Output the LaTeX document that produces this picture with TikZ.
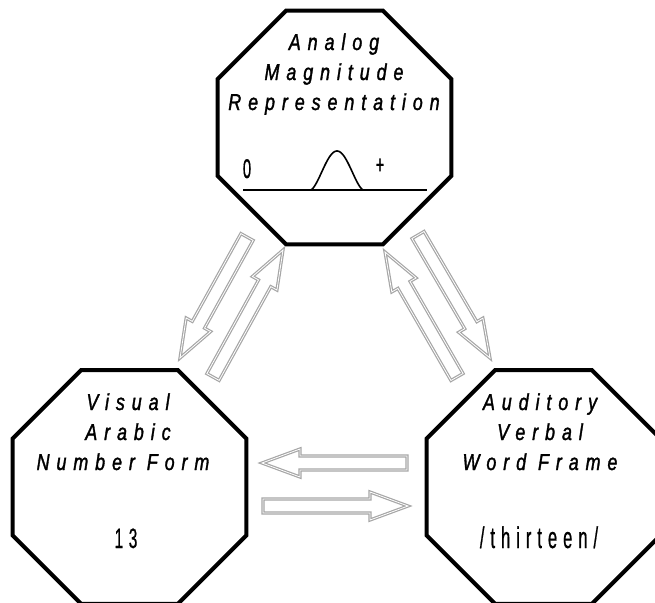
\documentclass[tikz,border=0pt]{standalone}
\usepackage{fontspec}
\usetikzlibrary{shapes.geometric,calc}
\newfontfamily\lbl[FakeStretch=0.78,LetterSpace=30,FakeBold=1.4]{Liberation Sans}
\newfontfamily\numf[FakeStretch=0.55,LetterSpace=20,FakeBold=0.6]{Liberation Sans}
\newcommand\blockarrow[2]{%
  \path ($(#2)!38pt!(#1)$) coordinate (#1h);
  \draw[barrow] ($(#1)!7pt!90:(#2)$) -- ($(#1h)!7pt!90:(#2)$) -- ($(#1h)!14pt!90:(#2)$)
    -- (#2) -- ($(#1h)!14pt!-90:(#2)$) -- ($(#1h)!7pt!-90:(#2)$) -- ($(#1)!7pt!-90:(#2)$) -- cycle;}
\begin{document}
\begin{tikzpicture}[x=1pt,y=-1pt,
  oct/.style={regular polygon, regular polygon sides=8, minimum size=253pt, inner sep=0pt, outer sep=0pt, draw=black, line width=4pt, fill=white},
  lab/.style={anchor=base, inner sep=0pt, font=\lbl\itshape\fontsize{23}{23}\selectfont},
  val/.style={anchor=base, inner sep=0pt, font=\numf\fontsize{28}{28}\selectfont},
  barrow/.style={draw=gray!70, line width=1.2pt, double=white, double distance=0.8pt, line join=miter}]
\useasboundingbox (0,0) rectangle (655,602);
\clip (0,0) rectangle (655,602);
\fill[white] (0,0) rectangle (655,602);
% octagons
\node[oct] (amr) at (334.5,127.5) {};
\node[oct] (van) at (129.5,487) {};
\node[oct] (avw) at (543.5,487) {};
% top labels
\node[lab] (t1) at (334,50) {Analog};
\node[lab] (t2) at (334,80) {Magnitude};
\node[lab] (t3) at (334,110) {Representation};
\node[val, font=\numf\fontsize{27}{27}\selectfont] (zero) at (247,178) {0};
\node[inner sep=0pt, font=\numf\fontsize{26}{26}\selectfont] (plus) at (380,166) {+};
\draw[line width=1.6pt] (243,190) -- (427,190);
\draw[line width=1.6pt, line join=round] plot[domain=-26.5:26.5, samples=60, smooth] ({337+\x}, {190-39*pow(max(cos(\x*90/26.5),0),1.6)});
% left labels
\node[lab] (l1) at (128,410) {Visual};
\node[lab] (l2) at (128,440) {Arabic};
\node[lab] (l3) at (123,470) {Number Form};
\node[val] (l4) at (126,548) {13};
% right labels
\node[lab] (r1) at (540,410) {Auditory};
\node[lab] (r2) at (540,440) {Verbal};
\node[lab] (r3) at (540,470) {Word Frame};
\node[val, font=\numf\fontsize{30}{30}\selectfont] (r4) at (539,548) {/thirteen/};
% arrow end points
\coordinate (ldS) at (247,237); \coordinate (ldE) at (180,358);
\coordinate (luS) at (213,377); \coordinate (luE) at (283,250);
\coordinate (ruS) at (457,377); \coordinate (ruE) at (385,252);
\coordinate (rdS) at (418,235); \coordinate (rdE) at (490,358);
\coordinate (hlS) at (407,463); \coordinate (hlE) at (262,463);
\coordinate (hrS) at (263,506); \coordinate (hrE) at (408,506);
\blockarrow{ldS}{ldE}
\blockarrow{luS}{luE}
\blockarrow{ruS}{ruE}
\blockarrow{rdS}{rdE}
\blockarrow{hlS}{hlE}
\blockarrow{hrS}{hrE}
\end{tikzpicture}
\end{document}
